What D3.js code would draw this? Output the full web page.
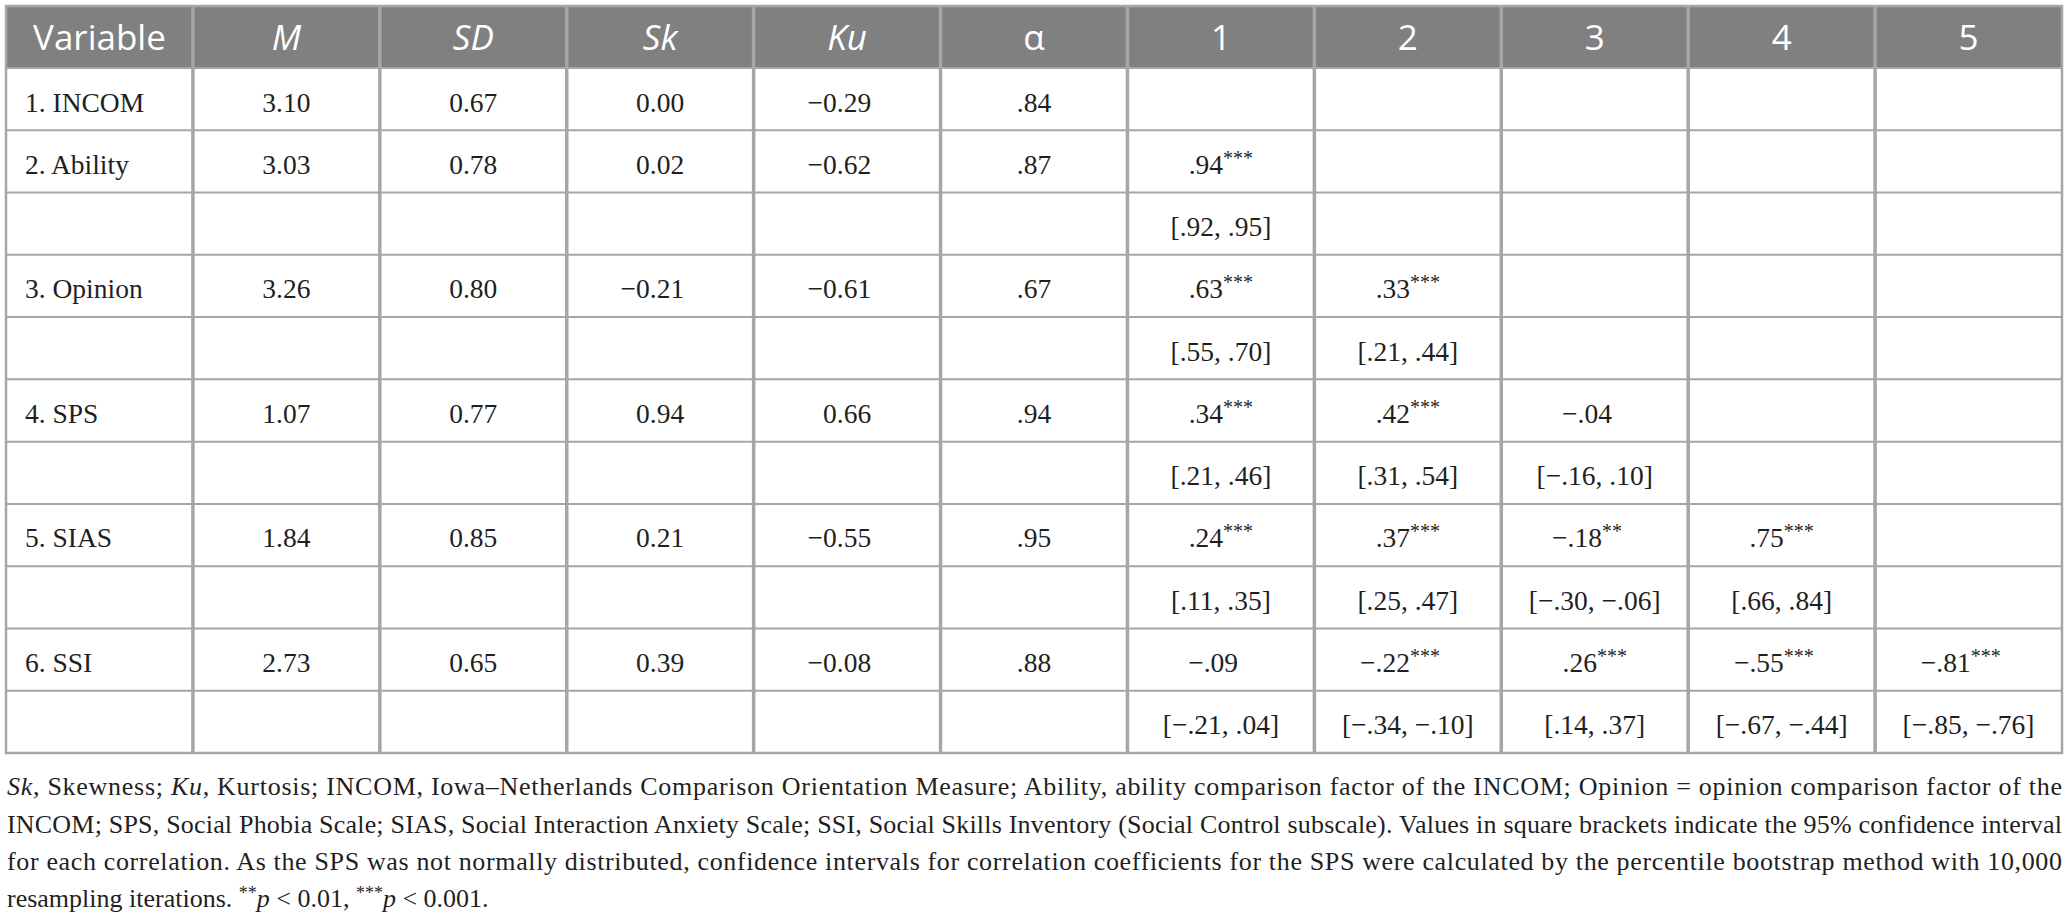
<!DOCTYPE html>
<html>
<head>
<meta charset="utf-8">
<script src="https://cdn.jsdelivr.net/npm/d3@7"></script>
<style>
  html, body { margin: 0; padding: 0; background: #fff; }
  svg { display: block; }
</style>
</head>
<body>
<div id="table"></div>
<script>
// header labels
const headers = ["Variable", "M", "SD", "Sk", "Ku", "\u03b1", "1", "2", "3", "4", "5"];
const italicHeaders = ["M", "SD", "Sk", "Ku"];

// descriptive statistics
const variables = ["1. INCOM", "2. Ability", "3. Opinion", "4. SPS", "5. SIAS", "6. SSI"];
const means = [3.10, 3.03, 3.26, 1.07, 1.84, 2.73];
const sds = [0.67, 0.78, 0.80, 0.77, 0.85, 0.65];
const skews = [0.00, 0.02, -0.21, 0.94, 0.21, 0.39];
const kurts = [-0.29, -0.62, -0.61, 0.66, -0.55, -0.08];
const alphas = [0.84, 0.87, 0.67, 0.94, 0.95, 0.88];

// correlations (lower triangle), significance stars, 95% CIs
const corrs = [
  [],
  [0.94],
  [0.63, 0.33],
  [0.34, 0.42, -0.04],
  [0.24, 0.37, -0.18, 0.75],
  [-0.09, -0.22, 0.26, -0.55, -0.81]
];
const stars = [
  [],
  ["***"],
  ["***", "***"],
  ["***", "***", ""],
  ["***", "***", "**", "***"],
  ["", "***", "***", "***", "***"]
];
const ciLow = [
  [],
  [0.92],
  [0.55, 0.21],
  [0.21, 0.31, -0.16],
  [0.11, 0.25, -0.30, 0.66],
  [-0.21, -0.34, 0.14, -0.67, -0.85]
];
const ciHigh = [
  [],
  [0.95],
  [0.70, 0.44],
  [0.46, 0.54, 0.10],
  [0.35, 0.47, -0.06, 0.84],
  [0.04, -0.10, 0.37, -0.44, -0.76]
];

const footLines = [
  [["Sk", true], [", Skewness; ", false], ["Ku", true], [", Kurtosis; INCOM, Iowa\u2013Netherlands Comparison Orientation Measure; Ability, ability comparison factor of the INCOM; Opinion = opinion comparison factor of the", false]],
  [["INCOM; SPS, Social Phobia Scale; SIAS, Social Interaction Anxiety Scale; SSI, Social Skills Inventory (Social Control subscale). Values in square brackets indicate the 95% confidence interval", false]],
  [["for each correlation. As the SPS was not normally distributed, confidence intervals for correlation coefficients for the SPS were calculated by the percentile bootstrap method with 10,000", false]]
];

const MINUS = "\u2212";
const fmt2 = v => (v < 0 ? MINUS : "") + Math.abs(v).toFixed(2);
const fmtR = v => (v < 0 ? MINUS : "") + Math.abs(v).toFixed(2).replace(/^0/, "");

// build the row list: each variable row, plus a CI row from Ability on
const rows = [];
variables.forEach((v, i) => {
  rows.push({
    cells: [v, fmt2(means[i]), fmt2(sds[i]), fmt2(skews[i]), fmt2(kurts[i]), fmtR(alphas[i])]
      .concat(corrs[i].map((r, j) => ({ t: fmtR(r), s: stars[i][j] })))
  });
  if (i > 0) {
    rows.push({
      cells: ["", "", "", "", "", ""].concat(ciLow[i].map((lo, j) => "[" + fmtR(lo) + ", " + fmtR(ciHigh[i][j]) + "]"))
    });
  }
});

const W = 2069, H = 919;
const tblLeft = 6, tblRight = 2062, tblTop = 6, headH = 62, tblBottom = 753;

const svg = d3.select("#table").append("svg").attr("width", W).attr("height", H);

const x = d3.scaleBand().domain(d3.range(headers.length)).range([tblLeft, tblRight]);
const y = d3.scaleBand().domain(d3.range(rows.length)).range([tblTop + headH, tblBottom]);

const gridColor = "#a6a6a6";

// header background
svg.append("rect")
  .attr("x", tblLeft).attr("y", tblTop)
  .attr("width", tblRight - tblLeft).attr("height", headH)
  .attr("fill", "#808080");

// horizontal lines
svg.append("g")
  .selectAll("line")
  .data(d3.range(rows.length + 1))
  .join("line")
  .attr("x1", tblLeft).attr("x2", tblRight)
  .attr("y1", d => y(0) + d * y.bandwidth())
  .attr("y2", d => y(0) + d * y.bandwidth())
  .attr("stroke", gridColor)
  .attr("stroke-width", 2);

// vertical lines
svg.append("g")
  .selectAll("line")
  .data(d3.range(1, headers.length))
  .join("line")
  .attr("x1", d => x(d)).attr("x2", d => x(d))
  .attr("y1", tblTop).attr("y2", tblBottom)
  .attr("stroke", gridColor)
  .attr("stroke-width", 3.5);

// outer border
svg.append("rect")
  .attr("x", tblLeft).attr("y", tblTop)
  .attr("width", tblRight - tblLeft).attr("height", tblBottom - tblTop)
  .attr("fill", "none")
  .attr("stroke", gridColor)
  .attr("stroke-width", 2.5);

// header text
svg.append("g")
  .selectAll("text")
  .data(headers)
  .join("text")
  .attr("x", (d, i) => x(i) + x.bandwidth() / 2)
  .attr("y", tblTop + 44)
  .attr("text-anchor", "middle")
  .attr("fill", "#fff")
  .style("font-family", "'Open Sans', sans-serif")
  .style("font-size", "35px")
  .style("font-style", d => italicHeaders.includes(d) ? "italic" : "normal")
  .text(d => d);

// measure width of a minus sign in body font
const bodyFont = "'Liberation Serif', 'Times New Roman', serif";
const bodySize = 27.5;
const probe = svg.append("text").style("font-family", bodyFont).style("font-size", bodySize + "px").text(MINUS);
const minusW = probe.node().getComputedTextLength();
probe.remove();

// body cells
const cellG = svg.append("g")
  .style("font-family", bodyFont)
  .style("font-size", bodySize + "px")
  .attr("fill", "#1f1f1f");

rows.forEach((row, ri) => {
  row.cells.forEach((c, ci) => {
    const item = typeof c === "string" ? { t: c, s: "" } : c;
    if (!item.t) return;
    const cx = x(ci) + x.bandwidth() / 2;
    const t = cellG.append("text")
      .attr("y", y(ri) + 43.5);
    if (ci === 0) {
      t.attr("x", x(0) + 19).attr("text-anchor", "start");
    } else {
      // a leading minus hangs to the left of the centred number
      const hang = item.t.startsWith(MINUS) ? minusW / 2 : 0;
      t.attr("x", cx - hang).attr("text-anchor", "middle");
    }
    t.append("tspan").text(item.t);
    if (item.s) {
      t.append("tspan")
        .attr("dy", -9)
        .style("font-size", "20px")
        .text(item.s);
    }
  });
});

// footnote
const footG = svg.append("g")
  .style("font-family", bodyFont)
  .style("font-size", "26px")
  .attr("fill", "#1f1f1f");

const footY = [795, 833, 870, 907];
footLines.forEach((parts, li) => {
  const t = footG.append("text")
    .attr("x", 7)
    .attr("y", footY[li])
    .attr("textLength", 2055)
    .attr("lengthAdjust", "spacing");
  parts.forEach(p => {
    t.append("tspan").style("font-style", p[1] ? "italic" : "normal").text(p[0]);
  });
});

const last = footG.append("text").attr("x", 7).attr("y", footY[3]);
last.append("tspan").text("resampling iterations. ");
last.append("tspan").attr("dy", -8).style("font-size", "18px").text("**");
last.append("tspan").attr("dy", 8).style("font-style", "italic").text("p");
last.append("tspan").text(" < 0.01, ");
last.append("tspan").attr("dy", -8).style("font-size", "18px").text("***");
last.append("tspan").attr("dy", 8).style("font-style", "italic").text("p");
last.append("tspan").text(" < 0.001.");
</script>
</body>
</html>
